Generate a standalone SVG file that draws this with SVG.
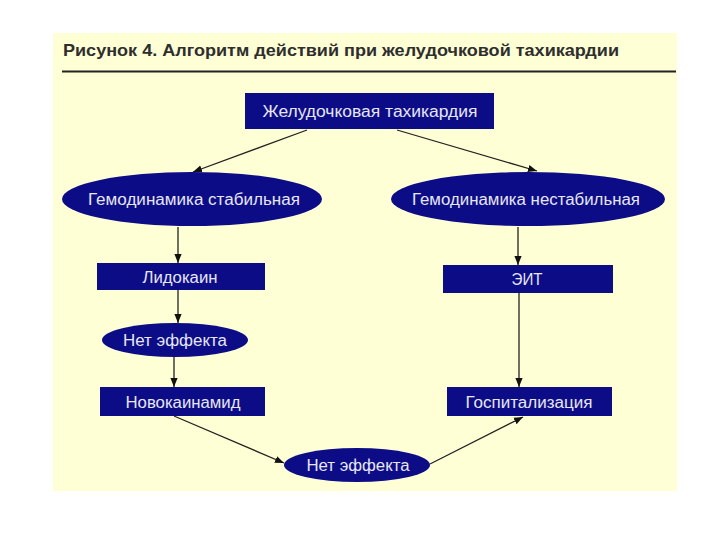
<svg xmlns="http://www.w3.org/2000/svg" width="720" height="540" viewBox="0 0 720 540">
<defs>
<marker id="ah" viewBox="0 0 10 10" refX="10" refY="5" markerWidth="9" markerHeight="9" markerUnits="userSpaceOnUse" orient="auto">
<path d="M0,1 L10,5 L0,9 Z" fill="#111"/>
</marker>
<style>
.node{fill:#0C0C86;}
.lbl{font-family:"Liberation Sans",Arial,sans-serif;font-size:16px;fill:#E6E6F4;text-anchor:middle;}
.conn{stroke:#222;stroke-width:1.3;fill:none;marker-end:url(#ah);}
</style>
</defs>
<rect x="0" y="0" width="720" height="540" fill="#FFFFFF"/>
<rect x="53" y="33" width="624" height="458" fill="#FFFFD6"/>
<text x="63" y="56" font-family="'Liberation Sans',Arial,sans-serif" font-size="17" font-weight="bold" fill="#2E2E2E" textLength="556" lengthAdjust="spacingAndGlyphs">Рисунок 4. Алгоритм действий при желудочковой тахикардии</text>
<line x1="62" y1="71.5" x2="676" y2="71.5" stroke="#222" stroke-width="2"/>

<g id="connectors">
<line class="conn" x1="307" y1="130" x2="193" y2="172"/>
<line class="conn" x1="397" y1="130" x2="537" y2="171"/>
<line class="conn" x1="178" y1="227" x2="178" y2="263"/>
<line class="conn" x1="178" y1="290" x2="178" y2="323"/>
<line class="conn" x1="174" y1="357" x2="174" y2="387"/>
<line class="conn" x1="518" y1="227" x2="518" y2="265"/>
<line class="conn" x1="519" y1="293" x2="519" y2="387"/>
<line class="conn" x1="174" y1="416" x2="284" y2="463"/>
<line class="conn" x1="430" y1="464" x2="523" y2="417"/>
</g>

<g id="n-vt">
<rect class="node" x="245" y="93" width="249" height="36"/>
<text class="lbl" x="370" y="117" textLength="215" lengthAdjust="spacingAndGlyphs">Желудочковая тахикардия</text>
</g>
<g id="n-stable">
<ellipse class="node" cx="192" cy="199" rx="130" ry="27"/>
<text class="lbl" x="194" y="205" textLength="212" lengthAdjust="spacingAndGlyphs">Гемодинамика стабильная</text>
</g>
<g id="n-unstable">
<ellipse class="node" cx="528" cy="199" rx="137" ry="27"/>
<text class="lbl" x="526" y="205" textLength="228" lengthAdjust="spacingAndGlyphs">Гемодинамика нестабильная</text>
</g>
<g id="n-lido">
<rect class="node" x="97" y="263" width="168" height="27"/>
<text class="lbl" x="180" y="283" textLength="75" lengthAdjust="spacingAndGlyphs">Лидокаин</text>
</g>
<g id="n-noeff1">
<ellipse class="node" cx="175" cy="340" rx="73" ry="17"/>
<text class="lbl" x="175" y="346" textLength="104" lengthAdjust="spacingAndGlyphs">Нет эффекта</text>
</g>
<g id="n-novo">
<rect class="node" x="100" y="387" width="165" height="29"/>
<text class="lbl" x="183" y="408" textLength="115" lengthAdjust="spacingAndGlyphs">Новокаинамид</text>
</g>
<g id="n-eit">
<rect class="node" x="443" y="265" width="170" height="28"/>
<text class="lbl" x="527" y="285" textLength="31" lengthAdjust="spacingAndGlyphs">ЭИТ</text>
</g>
<g id="n-hosp">
<rect class="node" x="447" y="387" width="165" height="29"/>
<text class="lbl" x="529" y="408" textLength="127" lengthAdjust="spacingAndGlyphs">Госпитализация</text>
</g>
<g id="n-noeff2">
<ellipse class="node" cx="357" cy="465" rx="73" ry="17"/>
<text class="lbl" x="358" y="471" textLength="103" lengthAdjust="spacingAndGlyphs">Нет эффекта</text>
</g>
</svg>
